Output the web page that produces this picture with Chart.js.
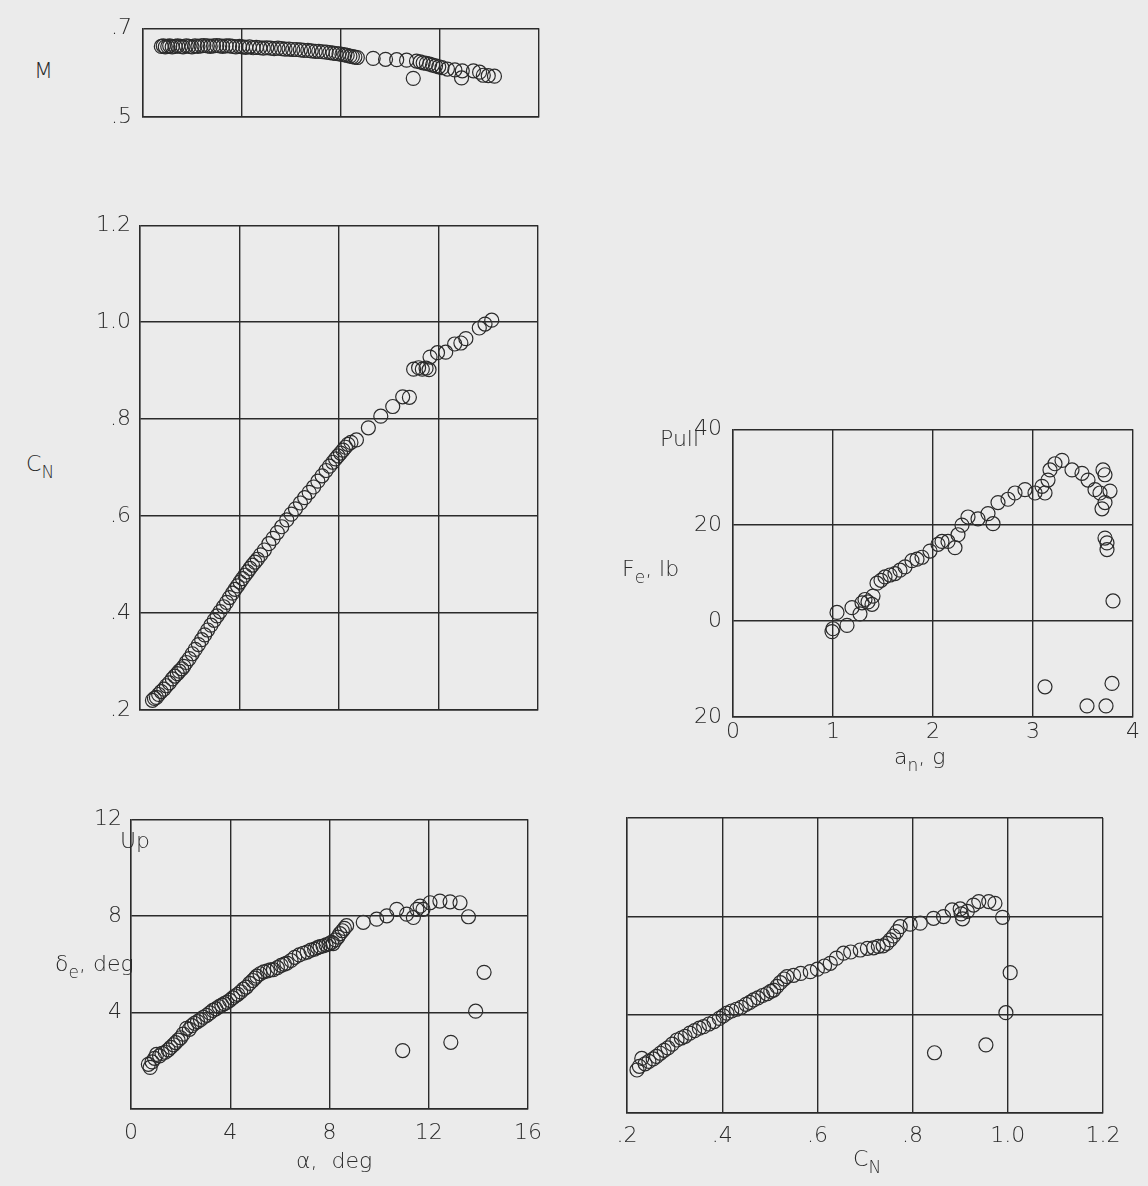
<!DOCTYPE html>
<html>
<head>
<meta charset="utf-8">
<script src="https://cdn.jsdelivr.net/npm/chart.js@4.4.0/dist/chart.umd.min.js"></script>
<style>
  body { margin: 0; background: #ebebeb; }
  #page { position: relative; width: 1148px; height: 1186px; overflow: hidden; background: #ebebeb;
          font-family: "DejaVu Sans", sans-serif; font-weight: 200; color: #2b2b2b; }
  #page canvas { position: absolute; }
  .lbl { position: absolute; font-size: 22px; line-height: 22px; white-space: nowrap; }
  .lbl sub { font-size: 17px; line-height: 0; vertical-align: -7px; }
</style>
</head>
<body>
<div id="page">
  <canvas id="chartM"></canvas>
  <canvas id="chartCN"></canvas>
  <canvas id="chartFe"></canvas>
  <canvas id="chartDeAlpha"></canvas>
  <canvas id="chartDeCN"></canvas>

  <div class="lbl" style="left:34px;top:60px">M</div>
  <div class="lbl" style="left:26px;top:453px">C<sub>N</sub></div>
  <div class="lbl" style="left:660px;top:428px">Pull</div>
  <div class="lbl" style="left:622px;top:558px">F<sub>e</sub>, lb</div>
  <div class="lbl" style="left:894px;top:746px">a<sub>n</sub>, g</div>
  <div class="lbl" style="left:120px;top:830px">Up</div>
  <div class="lbl" style="left:55px;top:953px">&delta;<sub>e</sub>, deg</div>
  <div class="lbl" style="left:296px;top:1150px">&alpha;, &nbsp;deg</div>
  <div class="lbl" style="left:853px;top:1148px">C<sub>N</sub></div>
</div>
<script>
// tick values of the axes
const ticksAlpha = [0, 4, 8, 12, 16];
const ticksM = [0.5, 0.7];
const ticksCN = [0.2, 0.4, 0.6, 0.8, 1.0, 1.2];
const ticksAn = [0, 1, 2, 3, 4];
const ticksFe = [-20, 0, 20, 40];
const ticksDe = [0, 4, 8, 12];

// Mach number vs angle of attack
const alphaM = [0.74, 0.82, 0.9, 1.0, 1.08, 1.18, 1.3, 1.4, 1.52, 1.62, 1.75, 1.86, 1.98, 2.1, 2.22, 2.35, 2.46, 2.6, 2.72,
    2.85, 2.98, 3.1, 3.22, 3.36, 3.5, 3.62, 3.75, 3.9, 4.02, 4.15, 4.3, 4.45, 4.58, 4.72, 4.86, 5.0, 5.15, 5.3, 5.45, 5.6,
    5.74, 5.9, 6.05, 6.2, 6.36, 6.5, 6.66, 6.8, 6.96, 7.1, 7.25, 7.4, 7.55, 7.68, 7.8, 7.92, 8.04, 8.15, 8.25, 8.36, 8.46,
    8.56, 8.66, 9.3, 9.8, 10.25, 10.65, 11.05, 11.2, 11.32, 11.45, 11.58, 11.7, 11.82, 11.95, 12.08, 12.3, 12.6, 12.9,
    13.35, 13.6, 13.75, 13.95, 14.2, 10.92, 12.87];
const machM = [0.659, 0.660, 0.658, 0.659, 0.660, 0.658, 0.659, 0.660, 0.659, 0.658, 0.660, 0.659, 0.658, 0.660, 0.659,
    0.660, 0.661, 0.660, 0.659, 0.660, 0.661, 0.660, 0.659, 0.660, 0.660, 0.659, 0.658, 0.659, 0.658, 0.657, 0.658, 0.656,
    0.657, 0.656, 0.655, 0.656, 0.655, 0.654, 0.655, 0.654, 0.653, 0.653, 0.652, 0.652, 0.651, 0.650, 0.650, 0.649, 0.648,
    0.648, 0.647, 0.646, 0.645, 0.644, 0.643, 0.642, 0.641, 0.640, 0.639, 0.637, 0.636, 0.635, 0.634, 0.632, 0.630, 0.629,
    0.628, 0.626, 0.624, 0.622, 0.621, 0.619, 0.617, 0.615, 0.613, 0.611, 0.608, 0.606, 0.604, 0.604, 0.601, 0.594, 0.593,
    0.592, 0.587, 0.588];

// normal-force coefficient vs angle of attack
const alphaCN = [0.5, 0.58, 0.66, 0.75, 0.85, 0.96, 1.06, 1.18, 1.3, 1.4, 1.5, 1.58, 1.68, 1.76, 1.86, 1.98, 2.1, 2.22,
    2.35, 2.48, 2.6, 2.72, 2.85, 2.98, 3.1, 3.22, 3.36, 3.48, 3.6, 3.72, 3.82, 3.92, 4.02, 4.12, 4.22, 4.32, 4.42, 4.52,
    4.62, 4.72, 4.85, 5.0, 5.18, 5.35, 5.52, 5.7, 5.9, 6.08, 6.25, 6.45, 6.62, 6.8, 6.98, 7.15, 7.32, 7.48, 7.62, 7.75,
    7.86, 7.96, 8.06, 8.16, 8.26, 8.36, 8.48, 8.7, 9.18, 9.68, 10.16, 10.56, 10.83, 11.0, 11.2, 11.35, 11.5, 11.62,
    11.66, 11.96, 12.29, 12.65, 12.9, 13.1, 13.64, 13.87, 14.14];
const cnAlpha = [0.220, 0.224, 0.226, 0.232, 0.238, 0.243, 0.250, 0.256, 0.264, 0.270, 0.275, 0.280, 0.285, 0.290, 0.298,
    0.306, 0.316, 0.325, 0.335, 0.345, 0.355, 0.365, 0.375, 0.385, 0.394, 0.403, 0.413, 0.422, 0.432, 0.441, 0.449, 0.456,
    0.464, 0.471, 0.478, 0.485, 0.492, 0.499, 0.505, 0.511, 0.520, 0.530, 0.543, 0.554, 0.566, 0.578, 0.592, 0.604, 0.615,
    0.627, 0.638, 0.649, 0.660, 0.672, 0.683, 0.694, 0.703, 0.711, 0.718, 0.724, 0.730, 0.736, 0.742, 0.748, 0.752, 0.757,
    0.782, 0.806, 0.826, 0.846, 0.845, 0.903, 0.906, 0.903, 0.905, 0.902, 0.928, 0.937, 0.938, 0.955, 0.957, 0.966, 0.988,
    0.996, 1.004];

// stick force vs normal acceleration
const anFe = [0.99, 1.0, 1.04, 1.14, 1.19, 1.27, 1.29, 1.32, 1.35, 1.39, 1.40, 1.44, 1.48, 1.52, 1.57, 1.62, 1.67, 1.72,
    1.79, 1.84, 1.89, 1.97, 2.05, 2.09, 2.15, 2.22, 2.25, 2.29, 2.35, 2.45, 2.55, 2.60, 2.65, 2.75, 2.82, 2.92, 3.02,
    3.09, 3.12, 3.15, 3.17, 3.22, 3.29, 3.39, 3.49, 3.55, 3.62, 3.67, 3.69, 3.70, 3.72, 3.72, 3.77, 3.72, 3.74, 3.74,
    3.80, 3.12, 3.54, 3.73, 3.79];
const feAn = [-2.2, -1.6, 1.8, -0.9, 2.8, 1.5, 3.8, 4.5, 4.0, 3.5, 5.2, 7.9, 8.5, 9.2, 9.6, 9.9, 10.6, 11.3, 12.6, 12.9,
    13.3, 14.6, 16.0, 16.6, 16.6, 15.3, 18.0, 20.0, 21.7, 21.3, 22.4, 20.3, 24.7, 25.4, 26.7, 27.4, 26.7, 28.1, 26.7, 29.4,
    31.5, 32.8, 33.5, 31.5, 30.8, 29.4, 27.4, 26.7, 23.4, 31.5, 30.5, 24.7, 27.1, 17.3, 16.3, 14.9, 4.2, -13.7, -17.7,
    -17.7, -13.0];

// elevator deflection vs angle of attack
const alphaDe = [0.70, 0.77, 0.85, 0.95, 1.03, 1.15, 1.25, 1.38, 1.5, 1.6, 1.71, 1.8, 1.9, 2.0, 2.1, 2.24, 2.35, 2.45,
    2.56, 2.68, 2.8, 2.92, 3.05, 3.18, 3.3, 3.42, 3.55, 3.66, 3.76, 3.86, 3.98, 4.1, 4.2, 4.3, 4.42, 4.53, 4.65, 4.78,
    4.9, 5.0, 5.07, 5.2, 5.35, 5.5, 5.62, 5.74, 5.9, 6.05, 6.18, 6.28, 6.45, 6.6, 6.78, 6.95, 7.1, 7.25, 7.4, 7.52, 7.62,
    7.74, 7.86, 7.98, 8.08, 8.15, 8.24, 8.34, 8.42, 8.52, 8.6, 8.69, 9.36, 9.9, 10.31, 10.71, 11.11, 11.38, 11.52, 11.65,
    11.77, 12.05, 12.45, 12.86, 13.26, 13.6, 10.95, 12.89, 13.89, 14.23];
const deAlpha = [1.85, 1.72, 1.95, 2.1, 2.26, 2.2, 2.3, 2.35, 2.45, 2.55, 2.66, 2.75, 2.85, 2.95, 3.1, 3.34, 3.3, 3.45,
    3.55, 3.62, 3.7, 3.8, 3.88, 3.98, 4.08, 4.15, 4.24, 4.3, 4.36, 4.42, 4.5, 4.6, 4.68, 4.75, 4.85, 4.96, 5.05, 5.2, 5.32,
    5.42, 5.5, 5.6, 5.68, 5.72, 5.76, 5.77, 5.85, 5.95, 6.0, 6.04, 6.15, 6.28, 6.38, 6.45, 6.5, 6.58, 6.62, 6.68, 6.72,
    6.75, 6.8, 6.84, 6.9, 6.85, 7.0, 7.12, 7.26, 7.38, 7.48, 7.59, 7.73, 7.86, 8.0, 8.27, 8.07, 7.93, 8.27, 8.40, 8.27,
    8.54, 8.61, 8.58, 8.54, 7.96, 2.42, 2.76, 4.05, 5.66];

// elevator deflection vs normal-force coefficient
const cnDe = [0.221, 0.226, 0.231, 0.238, 0.246, 0.255, 0.262, 0.270, 0.278, 0.286, 0.295, 0.305, 0.314, 0.322, 0.332,
    0.342, 0.352, 0.361, 0.372, 0.383, 0.394, 0.402, 0.410, 0.420, 0.430, 0.440, 0.450, 0.458, 0.466, 0.475, 0.485, 0.494,
    0.502, 0.508, 0.515, 0.522, 0.530, 0.536, 0.550, 0.565, 0.585, 0.600, 0.615, 0.627, 0.640, 0.655, 0.670, 0.690, 0.705,
    0.718, 0.728, 0.738, 0.746, 0.753, 0.760, 0.767, 0.774, 0.795, 0.816, 0.844, 0.865, 0.883, 0.900, 0.902, 0.905, 0.915,
    0.928, 0.939, 0.960, 0.973, 0.989, 0.846, 0.954, 0.996, 1.005];
const deCn = [1.75, 1.9, 2.22, 2.0, 2.1, 2.2, 2.3, 2.43, 2.55, 2.65, 2.8, 2.97, 3.05, 3.12, 3.25, 3.35, 3.45, 3.51, 3.62,
    3.72, 3.85, 3.95, 4.06, 4.15, 4.22, 4.3, 4.42, 4.5, 4.6, 4.68, 4.78, 4.85, 4.95, 5.0, 5.15, 5.3, 5.45, 5.55, 5.6, 5.68,
    5.75, 5.85, 5.98, 6.09, 6.3, 6.5, 6.55, 6.63, 6.7, 6.72, 6.78, 6.8, 6.9, 7.04, 7.2, 7.38, 7.58, 7.68, 7.72, 7.92, 7.99,
    8.26, 8.3, 8.1, 7.9, 8.2, 8.46, 8.6, 8.6, 8.53, 7.96, 2.45, 2.77, 4.08, 5.71];

const ink = '#2b2b2b';
const PAD = { l: 60, r: 30, t: 16, b: 44 };
const tickFont = { family: 'DejaVu Sans', size: 22, weight: '200' };

function decimal(v) {
    const s = v.toFixed(1);
    return s.startsWith('0') ? s.slice(1) : s;
}

// box = plot area in page pixels [left, top, right, bottom]
function buildPanel(id, box, xs, ys, xOpt, yOpt) {
    const canvas = document.getElementById(id);
    const w = box[2] - box[0], h = box[3] - box[1];
    canvas.width = w + PAD.l + PAD.r;
    canvas.height = h + PAD.t + PAD.b;
    canvas.style.left = (box[0] - PAD.l) + 'px';
    canvas.style.top = (box[1] - PAD.t) + 'px';

    const axis = (o, horizontal) => ({
        type: 'linear',
        min: o.ticks[0],
        max: o.ticks[o.ticks.length - 1],
        afterBuildTicks: s => { s.ticks = o.ticks.map(v => ({ value: v })); },
        ticks: {
            display: !!o.fmt,
            callback: o.fmt || (() => ''),
            padding: o.pad || 0,
            color: ink,
            font: tickFont,
            maxRotation: 0,
            autoSkip: false
        },
        grid: { color: ink, lineWidth: 1.4, drawTicks: false },
        border: { color: ink, width: 1.4 },
        afterFit: horizontal ? (s => { s.height = PAD.b; }) : (s => { s.width = PAD.l; })
    });

    return new Chart(canvas, {
        type: 'scatter',
        data: {
            datasets: [{
                data: xs.map((x, i) => ({ x: x, y: ys[i] })),
                pointRadius: 7,
                pointBorderWidth: 1.2,
                pointBorderColor: ink,
                pointBackgroundColor: 'rgba(0,0,0,0)',
                showLine: false
            }]
        },
        options: {
            responsive: false,
            animation: false,
            devicePixelRatio: 1,
            layout: { padding: { left: 0, top: PAD.t, right: PAD.r, bottom: 0 } },
            plugins: { legend: { display: false }, tooltip: { enabled: false } },
            scales: { x: axis(xOpt, true), y: axis(yOpt, false) }
        }
    });
}

document.addEventListener('DOMContentLoaded', function () {
    buildPanel('chartM', [143, 20, 539, 117], alphaM, machM,
        { ticks: ticksAlpha },
        { ticks: ticksM, fmt: decimal, pad: 11 });

    buildPanel('chartCN', [140, 219, 538, 710], alphaCN, cnAlpha,
        { ticks: ticksAlpha },
        { ticks: ticksCN, fmt: decimal, pad: 9 });

    buildPanel('chartFe', [733, 421, 1133, 717], anFe, feAn,
        { ticks: ticksAn, fmt: v => String(v), pad: 2 },
        { ticks: ticksFe, fmt: v => String(Math.abs(v)), pad: 11 });

    buildPanel('chartDeAlpha', [131, 813, 528, 1109], alphaDe, deAlpha,
        { ticks: ticksAlpha, fmt: v => String(v), pad: 11 },
        { ticks: ticksDe, fmt: v => (v === 0 ? '' : String(v)), pad: 9 });

    buildPanel('chartDeCN', [627, 818, 1103, 1113], cnDe, deCn,
        { ticks: ticksCN, fmt: decimal, pad: 10 },
        { ticks: ticksDe });
});
</script>
</body>
</html>
